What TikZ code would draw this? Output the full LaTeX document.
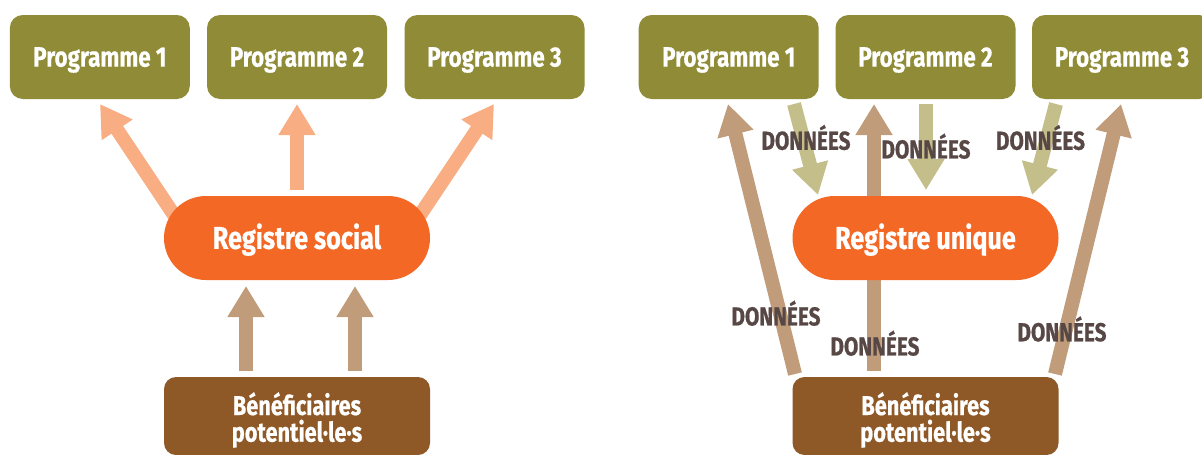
\documentclass[tikz,border=0pt]{standalone}
\usepackage{fontspec}
\setmainfont{Fira Sans}[FakeStretch=0.8, BoldFeatures={FakeBold=0.6}]
\usetikzlibrary{arrows.meta}
\definecolor{cOlive}{HTML}{8F8B36}
\definecolor{cOrange}{HTML}{F46826}
\definecolor{cBrown}{HTML}{8E5927}
\definecolor{cPeach}{HTML}{F8AE82}
\definecolor{cTan}{HTML}{C09C7B}
\definecolor{cLolive}{HTML}{C3BE8A}
\definecolor{cText}{HTML}{574846}
\begin{document}
\begin{tikzpicture}[x=1pt,y=-1pt,
  prog/.style={fill=cOlive, rounded corners=13pt, minimum width=180pt, minimum height=84pt, inner sep=0pt, text=white, font=\bfseries\fontsize{28}{28}\selectfont, text height=19.2pt, text depth=0pt},
  reg/.style={fill=cOrange, rounded corners=42pt, minimum width=266pt, minimum height=84pt, inner sep=0pt, text=white, font=\bfseries\fontsize{31.5}{31.5}\selectfont, text height=21.7pt, text depth=0pt},
  benbox/.style={fill=cBrown, rounded corners=12pt, minimum width=266pt, minimum height=78pt, inner sep=0pt},
  bentext/.style={text=white, font=\bfseries\fontsize{27.2}{26.7}\selectfont, align=center, inner sep=0pt, anchor=base},
  lbl/.style={text=cText, font=\bfseries\fontsize{26}{26}\selectfont, text height=17.9pt, text depth=0pt, inner sep=0pt},
  fat/.style={line width=14pt, -{Triangle[length=31pt,width=35pt]}},
  upP/.style={fat, draw=cPeach},
  upT/.style={fat, draw=cTan},
  dnO/.style={fat, draw=cLolive}
]
\clip (0,0) rectangle (1202,455);

% ---------- left: arrow end points ----------
\coordinate (l1s) at (174,215);  \coordinate (l1e) at (100,104);
\coordinate (l2s) at (297,190);  \coordinate (l2e) at (297,104);
\coordinate (l3s) at (420,215);  \coordinate (l3e) at (494,104);
\coordinate (lb1s) at (246,371); \coordinate (lb1e) at (246,286);
\coordinate (lb2s) at (355,371); \coordinate (lb2e) at (355,286);

% ---------- right: arrow end points ----------
\coordinate (rAs) at (795,374);  \coordinate (rAe) at (728,104);
\coordinate (rBs) at (874,371);  \coordinate (rBe) at (874,104);
\coordinate (rCs) at (1055,374); \coordinate (rCe) at (1121,104);
\coordinate (rDs) at (794,104);  \coordinate (rDe) at (818,195);
\coordinate (rEs) at (926,104);  \coordinate (rEe) at (926,190);
\coordinate (rFs) at (1056,104); \coordinate (rFe) at (1032,195);

% arrows (drawn beneath the boxes)
\draw[upP] (l1s) -- (l1e);
\draw[upP] (l2s) -- (l2e);
\draw[upP] (l3s) -- (l3e);
\draw[upT] (lb1s) -- (lb1e);
\draw[upT] (lb2s) -- (lb2e);

\draw[upT] (rAs) -- (rAe);
\draw[upT] (rBs) -- (rBe);
\draw[upT] (rCs) -- (rCe);
\draw[dnO] (rDs) -- (rDe);
\draw[dnO] (rEs) -- (rEe);
\draw[dnO] (rFs) -- (rFe);

% ---------- left nodes ----------
\node[prog] (lp1) at (99.8,57) {Programme 1};
\node[prog] (lp2) at (297,57) {Programme 2};
\node[prog] (lp3) at (494.5,57) {Programme 3};
\node[reg] (lreg) at (297,238) {Registre social};
\node[benbox] (lben) at (297,416) {};
\node[bentext] (lbentxt) at (297,441.7) {Bénéficiaires\\potentiel·le·s};

% ---------- right nodes ----------
\node[prog] (rp1) at (728.7,57) {Programme 1};
\node[prog] (rp2) at (925.5,57) {Programme 2};
\node[prog] (rp3) at (1122,57) {Programme 3};
\node[reg] (rreg) at (925.5,238) {Registre unique};
\node[benbox] (rben) at (925.5,416) {};
\node[bentext] (rbentxt) at (925.5,441.7) {Bénéficiaires\\potentiel·le·s};

% ---------- labels ----------
\node[lbl] (d1) at (806,140.8) {DONNÉES};
\node[lbl] (d2) at (926,149.5) {DONNÉES};
\node[lbl] (d3) at (1040.5,140.8) {DONNÉES};
\node[lbl] (d4) at (776,316.5) {DONNÉES};
\node[lbl] (d5) at (875,346.5) {DONNÉES};
\node[lbl] (d6) at (1062,332.3) {DONNÉES};
\end{tikzpicture}
\end{document}
